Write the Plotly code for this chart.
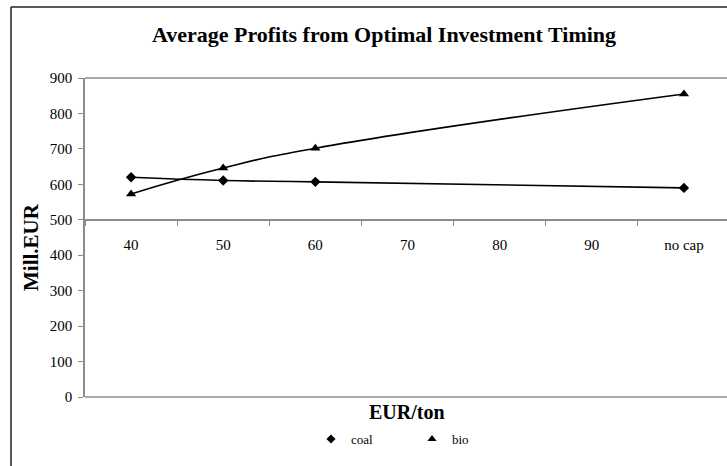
# Average profits chart, rebuilt in Plotly

import plotly.graph_objects as go

categories = ["40", "50", "60", "70", "80", "90", "no cap"]
coal = [620, 611, 607, None, None, None, 590]
bio = [573, 646, 702, None, None, None, 855]
y_ticks = [0, 100, 200, 300, 400, 500, 600, 700, 800, 900]

FONT = "Liberation Serif"
AXIS_GREY = "#8c8c8c"

# plot area in pixels (left, top, bottom); right edge runs just off screen
W, H = 727, 466
L, T, B = 85, 78, 397
plot_w = W - L
plot_h = B - T


def px_x(x):
    return (x - L) / plot_w


def px_y(y):
    return (B - y) / plot_h


fig = go.Figure()

fig.add_trace(go.Scatter(
    x=categories, y=coal, name="coal", mode="lines+markers",
    connectgaps=True, showlegend=False,
    line=dict(color="black", width=1.6, shape="spline", smoothing=1.3),
    marker=dict(symbol="diamond", size=8, color="black"),
))
fig.add_trace(go.Scatter(
    x=categories, y=bio, name="bio", mode="lines+markers",
    connectgaps=True, showlegend=False,
    line=dict(color="black", width=1.6, shape="spline", smoothing=1.3),
    marker=dict(symbol="triangle-up", size=9, color="black"),
))

# legend entries show only the marker, like the original
fig.add_trace(go.Scatter(x=[None], y=[None], mode="markers", name="coal",
                         marker=dict(symbol="diamond", size=7, color="black")))
fig.add_trace(go.Scatter(x=[None], y=[None], mode="markers", name="bio",
                         marker=dict(symbol="triangle-up", size=8, color="black")))

fig.update_layout(
    width=W, height=H,
    margin=dict(l=L, r=0, t=T, b=H - B),
    plot_bgcolor="white",
    paper_bgcolor="white",
    font=dict(family=FONT, color="black", size=14),
    title=dict(
        text="<b>Average Profits from Optimal Investment Timing</b>",
        font=dict(family=FONT, size=22, color="black"),
        x=px_x(384), xref="paper", xanchor="center",
        y=1 - 34 / H, yanchor="middle",
    ),
    xaxis=dict(
        type="category",
        range=[-0.5, 6.5 - (730 - W) / 92.3],
        anchor="free",
        position=500 / 900,
        showline=True, linecolor=AXIS_GREY, linewidth=1.5,
        ticks="outside", tickson="boundaries", ticklen=5,
        tickcolor=AXIS_GREY, tickwidth=1,
        ticklabelstandoff=11,
        showgrid=False, zeroline=False,
        tickfont=dict(family=FONT, size=15),
    ),
    yaxis=dict(
        range=[0, 900],
        tickvals=y_ticks,
        showline=True, linecolor=AXIS_GREY, linewidth=1.5,
        ticks="outside", ticklen=5, tickcolor=AXIS_GREY,
        ticklabelstandoff=3,
        showgrid=False, zeroline=False,
        tickfont=dict(family=FONT, size=15),
    ),
    legend=dict(
        orientation="h",
        x=px_x(412), xanchor="center",
        y=px_y(439), yanchor="middle",
        font=dict(family=FONT, size=13),
        itemwidth=30, entrywidth=56,
        bgcolor="rgba(0,0,0,0)",
    ),
    annotations=[
        dict(text="<b>EUR/ton</b>", xref="paper", yref="paper",
             x=px_x(407), y=px_y(412), xanchor="center", yanchor="middle",
             showarrow=False, font=dict(family=FONT, size=20)),
        dict(text="<b>Mill.EUR</b>", xref="paper", yref="paper",
             x=px_x(31), y=px_y(247), xanchor="center", yanchor="middle",
             showarrow=False, textangle=-90,
             font=dict(family=FONT, size=21)),
    ],
    shapes=[
        # plot area frame: top edge at 900 and bottom edge at 0
        dict(type="line", xref="paper", yref="paper",
             x0=0, x1=1, y0=1, y1=1,
             line=dict(color=AXIS_GREY, width=1.5), layer="below"),
        dict(type="line", xref="paper", yref="paper",
             x0=0, x1=1, y0=0, y1=0,
             line=dict(color=AXIS_GREY, width=1.5), layer="below"),
        # outer chart border, only its top and left edges are in view
        dict(type="line", xref="paper", yref="paper",
             x0=px_x(11), x1=1, y0=px_y(7), y1=px_y(7),
             line=dict(color="#222222", width=1.5)),
        dict(type="line", xref="paper", yref="paper",
             x0=px_x(11), x1=px_x(11), y0=px_y(7), y1=px_y(466),
             line=dict(color="#222222", width=1.5)),
    ],
)

# drop the browser's default body margin so the chart sits at the page corner
fig.write_html(
    "out.html", config={"displayModeBar": False},
    post_script="document.body.style.margin='0';document.body.style.overflow='hidden';",
)
